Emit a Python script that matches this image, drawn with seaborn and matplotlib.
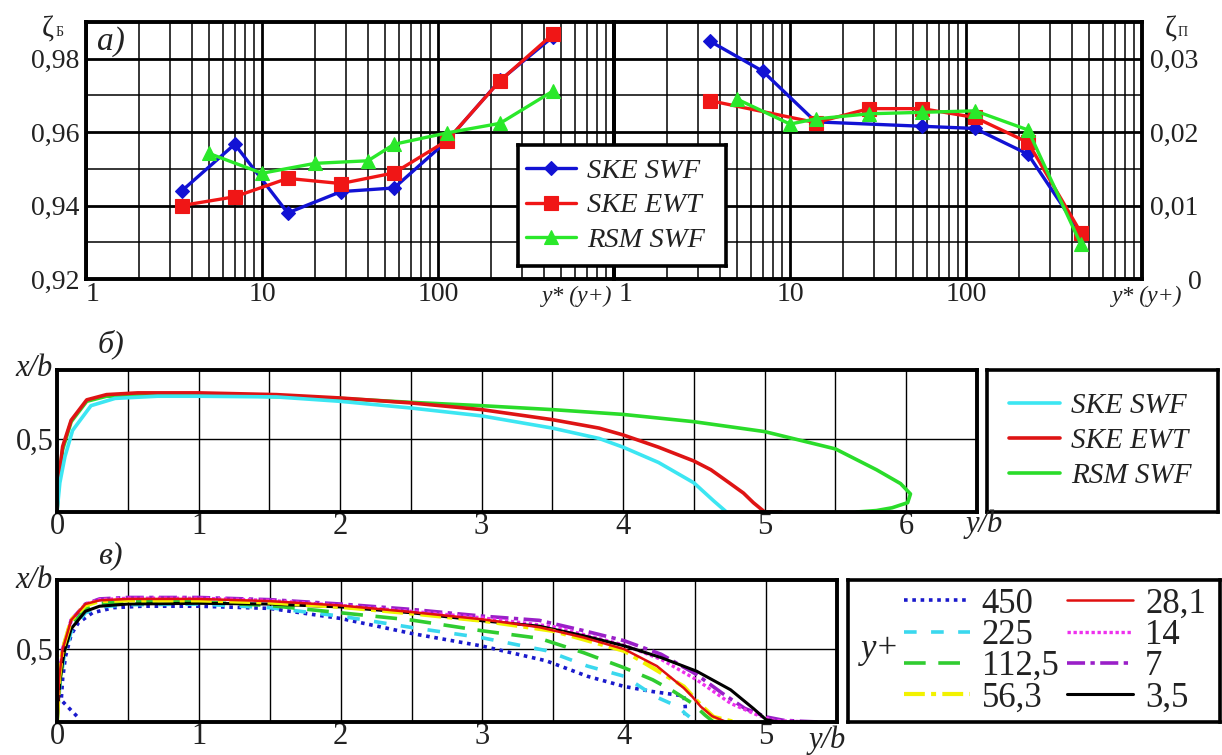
import matplotlib
matplotlib.use('Agg')
import matplotlib.pyplot as plt
import seaborn as sns
from matplotlib.ticker import (FixedLocator, FixedFormatter, LogLocator,
                               NullFormatter)
from matplotlib.transforms import ScaledTranslation

# ---------------- a) ζ vs y+ ----------------
yplus_ske = [3.5, 7, 14, 28.1, 56.3, 112.5, 225, 450]
yplus_rsm_l = [5, 10, 20, 40, 56.3, 112.5, 225, 450]
zb_ske_swf = [0.9440, 0.9567, 0.9380, 0.9438, 0.9448, 0.9576, 0.9741, 0.9860]
zb_ske_ewt = [0.9400, 0.9424, 0.9474, 0.9460, 0.9489, 0.9577, 0.9740, 0.9867]
zb_rsm_swf = [0.9542, 0.9488, 0.9515, 0.9522, 0.9567, 0.9598, 0.9624, 0.9712]

yplus_swf_r = [3.5, 7, 14, 56.3, 112.5, 225, 450]
yplus_ewt_r = [3.5, 14, 28.1, 56.3, 112.5, 225, 450]
yplus_rsm_r = [5, 10, 14, 28.1, 56.3, 112.5, 225, 450]
zp_ske_swf = [0.0324, 0.0283, 0.0214, 0.0208, 0.0205, 0.0170, 0.0062]
zp_ske_ewt = [0.0243, 0.0213, 0.0232, 0.0232, 0.0220, 0.0186, 0.0063]
zp_rsm_swf = [0.0245, 0.0211, 0.0218, 0.0225, 0.0227, 0.0229, 0.0203, 0.0047]

# ---------------- б) profiles, three models ----------------
b_swf_y = [0, 0.02, 0.056, 0.11, 0.24, 0.41, 0.71, 1.0, 1.55, 2.0, 2.5, 3.0,
           3.5, 3.83, 4.0, 4.25, 4.5, 4.64, 4.73]
b_swf_x = [0, 0.2, 0.38, 0.56, 0.73, 0.78, 0.795, 0.795, 0.79, 0.76, 0.714,
           0.66, 0.576, 0.505, 0.445, 0.34, 0.2, 0.076, 0]
b_ewt_y = [0, 0.015, 0.04, 0.1, 0.21, 0.35, 0.57, 1.0, 1.55, 2.0, 2.5, 3.0,
           3.5, 3.83, 4.0, 4.25, 4.5, 4.62, 4.75, 4.85, 4.92, 5.0, 5.12]
b_ewt_x = [0, 0.25, 0.45, 0.63, 0.77, 0.806, 0.818, 0.818, 0.806, 0.783,
           0.749, 0.703, 0.634, 0.576, 0.529, 0.445, 0.35, 0.29, 0.2, 0.13,
           0.064, 0, 0]
b_rsm_y = [0, 0.015, 0.04, 0.1, 0.21, 0.35, 1.0, 2.0, 2.5, 3.0, 3.5, 4.0,
           4.5, 5.0, 5.5, 5.79, 5.96, 6.03, 6.01, 5.9, 5.79, 5.65]
b_rsm_x = [0, 0.24, 0.43, 0.62, 0.76, 0.795, 0.806, 0.78, 0.753, 0.73, 0.703,
           0.67, 0.62, 0.552, 0.433, 0.29, 0.195, 0.124, 0.064, 0.029, 0.01, 0]

# ---------------- в) profiles for different y+ ----------------
v_450_y = [0.14, 0.09, 0.03, 0.04, 0.06, 0.1, 0.15, 0.25, 0.4, 0.6, 1.0, 1.5,
           2.0, 2.5, 3.0, 3.45, 3.74, 4.0, 4.2, 4.42, 4.43, 4.43]
v_450_x = [0.04, 0.09, 0.15, 0.3, 0.45, 0.6, 0.68, 0.75, 0.785, 0.795, 0.795,
           0.78, 0.711, 0.608, 0.521, 0.42, 0.314, 0.244, 0.209, 0.179, 0.105,
           0.047]
v_225_y = [0, 0.02, 0.05, 0.1, 0.2, 0.3, 0.5, 1.0, 1.5, 2.0, 2.5, 3.0, 3.45,
           3.74, 4.0, 4.22, 4.38, 4.43, 4.46]
v_225_x = [0, 0.25, 0.45, 0.62, 0.75, 0.79, 0.805, 0.81, 0.785, 0.727, 0.649,
           0.578, 0.49, 0.384, 0.314, 0.174, 0.105, 0.058, 0.035]
v_112_y = [0, 0.02, 0.05, 0.1, 0.2, 0.3, 0.5, 1.0, 1.5, 2.0, 2.5, 3.0, 3.4,
           3.71, 4.0, 4.2, 4.35, 4.48, 4.57, 4.63]
v_112_x = [0, 0.28, 0.48, 0.66, 0.78, 0.815, 0.825, 0.825, 0.8, 0.75, 0.7,
           0.626, 0.575, 0.477, 0.372, 0.29, 0.209, 0.128, 0.047, 0]
v_56_y = [0, 0.015, 0.04, 0.1, 0.2, 0.3, 0.5, 1.0, 1.5, 2.0, 2.5, 3.0, 3.5,
          4.0, 4.42, 4.54, 4.63, 4.78]
v_56_x = [0, 0.3, 0.5, 0.7, 0.8, 0.83, 0.835, 0.835, 0.82, 0.79, 0.745, 0.695,
          0.625, 0.488, 0.244, 0.116, 0.035, 0]
v_28_y = [0, 0.015, 0.04, 0.1, 0.2, 0.3, 0.5, 1.0, 1.5, 2.0, 2.5, 3.0, 3.4,
          3.71, 4.0, 4.23, 4.42, 4.48, 4.54, 4.62, 4.72]
v_28_x = [0, 0.3, 0.5, 0.7, 0.81, 0.835, 0.845, 0.845, 0.83, 0.8, 0.755, 0.705,
          0.651, 0.581, 0.5, 0.384, 0.233, 0.174, 0.105, 0.04, 0]
v_14_y = [0, 0.015, 0.04, 0.1, 0.2, 0.3, 0.5, 1.0, 1.5, 2.0, 2.5, 3.0, 3.5,
          4.0, 4.26, 4.51, 4.75, 4.94, 5.06, 5.32]
v_14_x = [0, 0.3, 0.5, 0.7, 0.81, 0.84, 0.85, 0.85, 0.835, 0.8, 0.76, 0.715,
          0.655, 0.528, 0.43, 0.29, 0.128, 0.047, 0.01, 0]
v_7_y = [0, 0.015, 0.04, 0.1, 0.2, 0.3, 0.5, 1.0, 1.5, 2.0, 2.5, 3.0, 3.4,
         3.71, 4.0, 4.26, 4.51, 4.69, 4.85, 5.0, 5.12, 5.25, 5.37]
v_7_x = [0, 0.3, 0.5, 0.7, 0.81, 0.845, 0.855, 0.855, 0.84, 0.81, 0.773, 0.727,
         0.698, 0.628, 0.558, 0.465, 0.326, 0.198, 0.093, 0.035, 0.012, 0.005, 0]
v_3_y = [0, 0.02, 0.05, 0.1, 0.2, 0.3, 0.5, 1.0, 1.5, 2.0, 2.5, 3.0, 3.4, 3.71,
         4.0, 4.26, 4.51, 4.75, 4.91, 5.0, 5.08]
v_3_x = [0, 0.28, 0.48, 0.64, 0.76, 0.795, 0.81, 0.815, 0.81, 0.79, 0.75,
         0.695, 0.658, 0.593, 0.523, 0.442, 0.349, 0.221, 0.093, 0.016, 0]

W, H = 1222, 755
FONTS = ['Liberation Serif', 'DejaVu Serif']
INK = '#222222'

sns.set_theme(style='white')
plt.rcParams['font.family'] = FONTS
plt.rcParams['axes.edgecolor'] = 'black'

fig = plt.figure(figsize=(W / 100, H / 100), dpi=100)


def box(x0, y0, x1, y1):
    # прямоугольник в пикселях -> доли фигуры
    return [x0 / W, 1 - y1 / H, (x1 - x0) / W, (y1 - y0) / H]


def ftext(x, y, s, size=22, italic=True, **kw):
    fig.text(x / W, 1 - y / H, s, ha=kw.pop('ha', 'center'), va='center',
             fontsize=size, style='italic' if italic else 'normal',
             color=INK, **kw)


def frame(ax, lw=2.8):
    for s in ax.spines.values():
        s.set_visible(True)
        s.set_linewidth(lw)
        s.set_color('black')


def comma(vals, fmt='{:.2f}'):
    return [fmt.format(v).replace('.', ',') for v in vals]


def style_top(ax, ymaj, ymin, ylabels):
    ax.set_xscale('log')
    ax.set_xlim(1, 1000)
    ax.xaxis.set_major_locator(FixedLocator([1, 10, 100, 1000]))
    ax.xaxis.set_major_formatter(FixedFormatter(['1', '10', '100', '']))
    ax.xaxis.set_minor_locator(LogLocator(base=10, subs=range(2, 10), numticks=20))
    ax.xaxis.set_minor_formatter(NullFormatter())
    ax.yaxis.set_major_locator(FixedLocator(ymaj))
    ax.yaxis.set_major_formatter(FixedFormatter(ylabels))
    ax.yaxis.set_minor_locator(FixedLocator(ymin))
    ax.grid(which='major', color='black', lw=2.0)
    ax.grid(which='minor', color='black', lw=1.1)
    ax.set_axisbelow(True)
    ax.tick_params(which='both', length=0, labelsize=20, labelcolor=INK)
    ax.tick_params(axis='x', pad=2)
    ax.tick_params(axis='y', pad=5)
    ax.set(xlabel='', ylabel='')
    frame(ax)


def style_profile(ax, xmax):
    ax.set_xlim(0, xmax)
    ax.set_ylim(0, 0.975)
    ax.xaxis.set_major_locator(FixedLocator(list(range(int(xmax) + 1))))
    ax.xaxis.set_major_formatter(FixedFormatter([str(i) for i in range(int(xmax) + 1)]))
    ax.xaxis.set_minor_locator(FixedLocator([i + 0.5 for i in range(int(xmax))]))
    ax.yaxis.set_major_locator(FixedLocator([0.5]))
    ax.yaxis.set_major_formatter(FixedFormatter(['0,5']))
    ax.grid(which='both', axis='x', color='black', lw=1.0)
    ax.grid(which='major', axis='y', color='black', lw=1.0)
    ax.set_axisbelow(True)
    ax.tick_params(which='both', length=0, labelsize=22, labelcolor=INK)
    ax.tick_params(axis='x', pad=0)
    ax.tick_params(axis='y', pad=2)
    ax.set(xlabel='', ylabel='')
    frame(ax)


def legend_box(rect):
    lax = fig.add_axes(rect)
    lax.set_xticks([])
    lax.set_yticks([])
    lax.set_facecolor('white')
    frame(lax, 2.6)
    return lax


def line(ax, x, y, **kw):
    sns.lineplot(x=x, y=y, ax=ax, estimator=None, sort=False, legend=False, **kw)


def shift_label(lab, dx_px, ha='left'):
    lab.set_horizontalalignment(ha)
    lab.set_transform(lab.get_transform()
                      + ScaledTranslation(dx_px / 100, 0, fig.dpi_scale_trans))


# ---------- a) ----------
ax_l = fig.add_axes(box(86, 22, 614, 279))
ax_r = fig.add_axes(box(614, 22, 1142, 279))
for a in (ax_l, ax_r):
    a.set_xscale('log')

top_series = [
    ('SKE SWF', '#1212d4', 'D', 7.5),
    ('SKE EWT', '#f01616', 's', 9.5),
    ('RSM SWF', '#2ae82a', '^', 10),
]
left_data = [(yplus_ske, zb_ske_swf), (yplus_ske, zb_ske_ewt), (yplus_rsm_l, zb_rsm_swf)]
right_data = [(yplus_swf_r, zp_ske_swf), (yplus_ewt_r, zp_ske_ewt), (yplus_rsm_r, zp_rsm_swf)]
for (name, col, mk, ms), (xl, yl), (xr, yr) in zip(top_series, left_data, right_data):
    style = dict(color=col, lw=2.4, marker=mk, markersize=ms,
                 markeredgecolor=col, markeredgewidth=0.8)
    line(ax_l, xl, yl, label=name, **style)
    line(ax_r, xr, yr, **style)

style_top(ax_l, [0.92, 0.94, 0.96, 0.98], [0.93, 0.95, 0.97],
          comma([0.92, 0.94, 0.96, 0.98]))
style_top(ax_r, [0.0, 0.01, 0.02, 0.03], [0.005, 0.015, 0.025],
          ['0'] + comma([0.01, 0.02, 0.03]))
ax_l.set_ylim(0.92, 0.99)
ax_r.set_ylim(0, 0.035)
ax_r.yaxis.tick_right()
ax_r.tick_params(axis='y', which='both', length=0, pad=6)
# "0" справа сдвинут вправо, "1" на обеих осях чуть правее края
shift_label(ax_r.yaxis.get_major_ticks()[0].label2, 38)
shift_label(ax_l.xaxis.get_major_ticks()[0].label1, 0)
shift_label(ax_r.xaxis.get_major_ticks()[0].label1, 5)

ftext(111, 42, 'а)', size=24)
ftext(48, 29, 'ζ', size=21, italic=False)
ftext(60, 33, 'Б', size=10, italic=False)
ftext(1171, 30, 'ζ', size=21, italic=False)
ftext(1183, 33, 'П', size=10, italic=False)
ftext(612, 296, 'y* (y+)', size=17, ha='right')
ftext(1182, 296, 'y* (y+)', size=17, ha='right')

lax_a = legend_box(box(518, 145, 726, 266))
h, l = ax_l.get_legend_handles_labels()
lax_a.legend(h, l, loc='center', bbox_to_anchor=(0.47, 0.5), frameon=False,
             prop={'family': FONTS, 'style': 'italic', 'size': 20.5},
             labelcolor=INK, handlelength=1.75, handletextpad=0.4,
             labelspacing=0.3, borderpad=0)

# ---------- б) ----------
ax_b = fig.add_axes(box(57, 370, 977, 512))
b_series = [
    ('SKE SWF', '#3ce6f2', b_swf_y, b_swf_x),
    ('SKE EWT', '#de1414', b_ewt_y, b_ewt_x),
    ('RSM SWF', '#2adc2a', b_rsm_y, b_rsm_x),
]
for name, col, xs, ys in b_series[::-1]:
    line(ax_b, xs, ys, color=col, lw=2.6, label=name)
style_profile(ax_b, 6.5)
ftext(111, 344, 'б)', size=23)
ftext(53, 369, 'x/b', size=22, ha='right')
ftext(984, 524, 'y/b', size=22)

lax_b = legend_box(box(987, 370, 1218, 512))
hb, lb = ax_b.get_legend_handles_labels()
order = ['SKE SWF', 'SKE EWT', 'RSM SWF']
hb = [hb[lb.index(n)] for n in order]
lax_b.legend(hb, order, loc='center', bbox_to_anchor=(0.49, 0.5), frameon=False,
             prop={'family': FONTS, 'style': 'italic', 'size': 21},
             labelcolor=INK, handlelength=1.75, handletextpad=0.4,
             labelspacing=0.3, borderpad=0)

# ---------- в) ----------
ax_v = fig.add_axes(box(57, 580, 837, 722))
v_series = [
    ('450', '#1a1acc', (0, (1, 1.3)), 2.6, v_450_y, v_450_x),
    ('225', '#3ad8ee', (0, (3.5, 4)), 2.6, v_225_y, v_225_x),
    ('112,5', '#30cc30', (0, (6, 3.5)), 2.6, v_112_y, v_112_x),
    ('7', '#9a1fc8', (0, (5, 1.5, 1.2, 1.5)), 2.6, v_7_y, v_7_x),
    ('14', '#ee30ee', (0, (1, 0.8)), 2.4, v_14_y, v_14_x),
    ('3,5', '#000000', '-', 2.2, v_3_y, v_3_x),
    ('56,3', '#f2f200', (0, (5, 1.5, 1.2, 1.5)), 3.0, v_56_y, v_56_x),
    ('28,1', '#e01010', '-', 1.8, v_28_y, v_28_x),
]
for name, col, ls, lw, xs, ys in v_series:
    line(ax_v, xs, ys, color=col, lw=lw, linestyle=ls, label=name)
style_profile(ax_v, 5.5)
ftext(110, 556, 'в)', size=23)
ftext(53, 581, 'x/b', size=22, ha='right')
ftext(827, 740, 'y/b', size=22)

lax_v = legend_box(box(848, 580, 1220, 722))
hv, lv = ax_v.get_legend_handles_labels()
order_v = ['450', '225', '112,5', '56,3', '28,1', '14', '7', '3,5']
hv = [hv[lv.index(n)] for n in order_v]
lax_v.legend(hv, order_v, ncol=2, loc='center', bbox_to_anchor=(0.556, 0.5),
             frameon=False, prop={'family': FONTS, 'size': 25},
             labelcolor=INK, handlelength=1.9, handletextpad=0.35,
             labelspacing=-0.05, columnspacing=0.25, borderpad=0)
ftext(880, 650, 'y+', size=25)

fig.savefig('out.png', dpi=100)
